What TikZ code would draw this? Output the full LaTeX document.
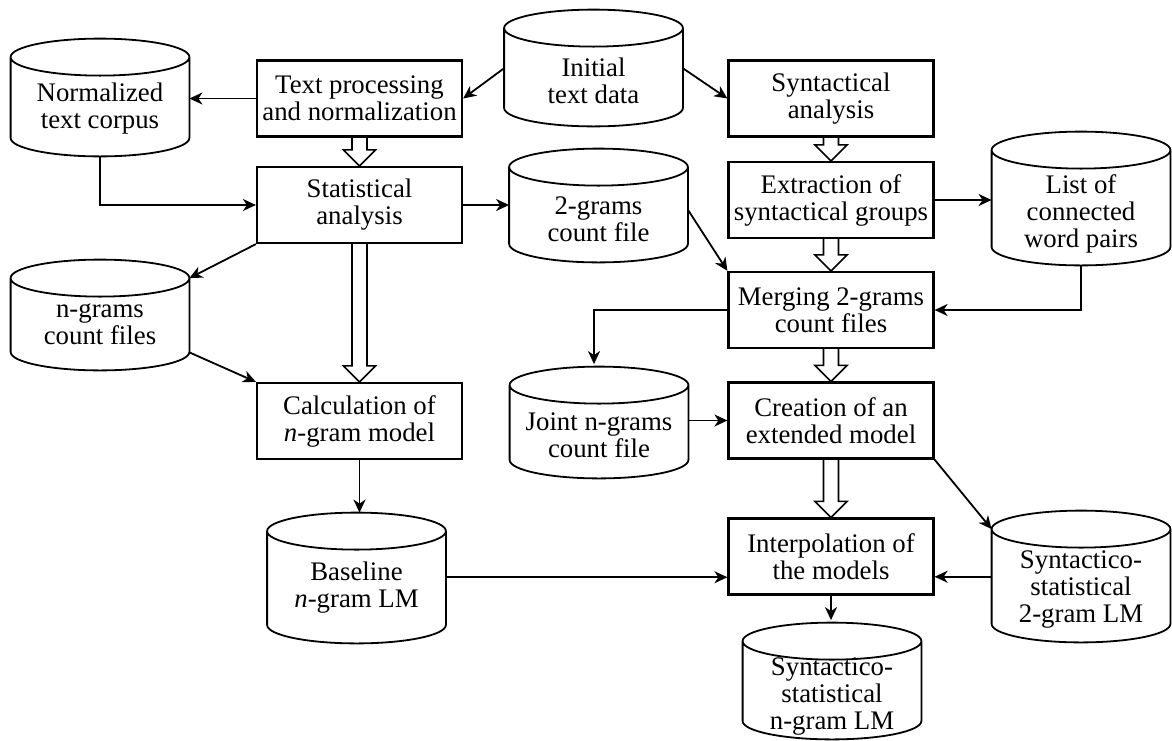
\documentclass[tikz,border=0pt]{standalone}
\usepackage{fontspec}
\setmainfont{Liberation Serif}
\usetikzlibrary{arrows.meta,calc}
\begin{document}
\begin{tikzpicture}[x=0.5pt,y=-0.5pt,
  every node/.style={font=\fontsize{13.4}{13.5}\selectfont, align=center, inner sep=0pt},
  proc/.style={draw, line width=1.1pt, minimum width=102.5pt, minimum height=38pt},
  store/.style={minimum width=89pt},
  arr/.style={line width=0.9pt, -{Stealth[length=6.5pt,width=6pt,inset=2pt]}},
  hol/.style={line width=0.8pt, line join=miter},
  cylline/.style={line width=0.9pt}
]
\useasboundingbox (0,0) rectangle (1172,740);

% process boxes
\node[proc] (tp)  at (359.5,98.5) {Text processing\\and normalization};
\node[proc] (sa)  at (359.5,205)  {Statistical\\analysis};
\node[proc] (cm)  at (359.5,421)  {Calculation of\\\textit{n}-gram model};
\node[proc] (syn) at (831,98.5)   {Syntactical\\analysis};
\node[proc] (ext) at (831,200)    {Extraction of\\syntactical groups};
\node[proc] (mrg) at (831,310)    {Merging 2-grams\\count files};
\node[proc] (cre) at (831,420.5)  {Creation of an\\extended model};
\node[proc] (itp) at (831,556.5)  {Interpolation of\\the models};

% data stores (node spans from the top ellipse's middle line to the bottom;
% a taller text box lowers the label inside the body)
\node[store, minimum height=49.25pt, text height=24.6pt] (ntc) at (100,106.75)   {Normalized\\text corpus};
\node[store, minimum height=48.75pt, text height=26.1pt] (itd) at (593.5,77.25)  {Initial\\text data};
\node[store, minimum height=47.25pt, text height=26.5pt] (tgc) at (598.5,214.75) {2-grams\\count file};
\node[store, minimum height=45.75pt]                     (ngc) at (100,324.25)   {n-grams\\count files};
\node[store, minimum height=57.25pt, text height=42.1pt] (lcw) at (1081,207.75)  {List of\\connected\\word pairs};
\node[store, minimum height=46.25pt, text height=25.9pt] (jnc) at (599,431.75)   {Joint n-grams\\count file};
\node[store, minimum height=55.75pt]                     (bln) at (356.5,587.25) {Baseline\\\textit{n}-gram LM};
\node[store, minimum height=56.25pt, text height=40pt]   (ss2) at (1081,585.75)  {Syntactico-\\statistical\\2-gram LM};
\node[store, minimum height=48.75pt, text height=42.5pt] (ssn) at (832,690.25)   {Syntactico-\\statistical\\n-gram LM};

% cylinder outlines
\foreach \nm in {ntc,itd,tgc,ngc,lcw,jnc,bln,ss2,ssn}{
  \draw[cylline] let \p1=(\nm.north west), \p2=(\nm.south east) in
    (\x1,\y1) -- (\x1,\y2+9.25pt)
      arc[start angle=180,end angle=360,x radius={(\x2-\x1)/2},y radius=9.25pt]
      -- (\x2,\y1)
    (\x1,\y1) arc[start angle=180,end angle=-180,x radius={(\x2-\x1)/2},y radius=9.25pt];
}

% hollow block arrows between process boxes
\foreach \src/\dst in {tp/sa, sa/cm, syn/ext, ext/mrg, mrg/cre, cre/itp}{
  \draw[hol] let \p1=(\src.south), \p2=(\dst.north) in
    (\x1-3.75pt,\y1) -- (\x1-3.75pt,\y2+8pt) -- (\x1-8pt,\y2+8pt) -- (\x1,\y2)
    -- (\x1+8pt,\y2+8pt) -- (\x1+3.75pt,\y2+8pt) -- (\x1+3.75pt,\y1);
}

% data flow connectors
\draw[arr] ($(itd.west)+(0,-9)$) -- (tp.east);
\draw[arr] ($(itd.east)+(0,-9)$) -- (syn.west);
\draw[arr] (tp.west) -- (tp.west -| ntc.east);
\draw[arr] (ntc.south) |- (sa.west);
\draw[arr] (sa.east) -- (sa.east -| tgc.west);
\draw[arr] (sa.south west) -- (ngc.north east);
\draw[arr] ($(ngc.south east)+(0,-18)$) -- (cm.north west);
\draw[arr] (cm.south) -- ($(cm.south |- bln.north)+(0,-18.5)$);
\draw[arr] (ext.east) -- (ext.east -| lcw.west);
\draw[arr] ($(tgc.east)+(0,-5)$) -- (mrg.north west);
\draw[arr] (lcw.south) |- (mrg.east);
\draw[arr] (mrg.west) -| ($(jnc.north)+(-5,-21)$);
\draw[arr] (cre.west -| jnc.east) -- (cre.west);
\draw[arr] (cre.south east) -- (ss2.north west);
\draw[arr] ($(bln.east)+(0,-10)$) -- ($(bln.east -| itp.west)+(0,-10)$);
\draw[arr] ($(ss2.west)+(0,-9)$) -- ($(ss2.west -| itp.east)+(0,-9)$);
\draw[arr] (itp.south) -- ($(itp.south |- ssn.north)+(0,-21)$);
\end{tikzpicture}
\end{document}
